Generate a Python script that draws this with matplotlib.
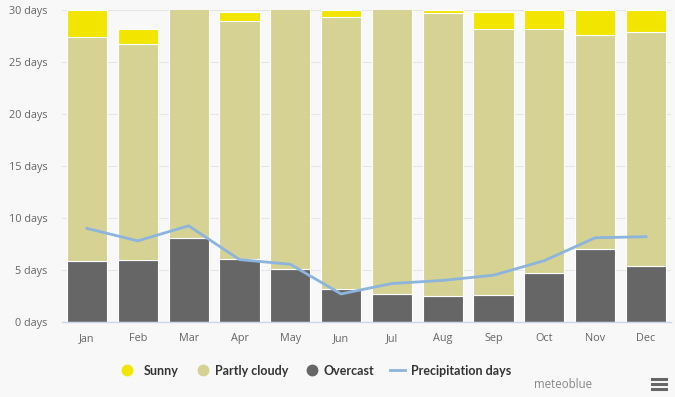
import matplotlib
matplotlib.use("Agg")
import matplotlib.pyplot as plt
from matplotlib.lines import Line2D
import numpy as np

months = ["Jan", "Feb", "Mar", "Apr", "May", "Jun", "Jul", "Aug", "Sep", "Oct", "Nov", "Dec"]
overcast = [5.9, 6.0, 8.1, 6.05, 5.07, 3.17, 2.7, 2.5, 2.6, 4.7, 7.05, 5.4]
partly_cloudy = [21.5, 20.7, 22.9, 22.85, 25.9, 26.13, 28.3, 27.2, 25.6, 23.45, 20.55, 22.45]
sunny = [2.6, 1.5, 0.0, 0.9, 0.0, 0.7, 0.0, 0.3, 1.6, 1.85, 2.4, 2.15]
precipitation_days = [9.0, 7.8, 9.25, 6.0, 5.55, 2.7, 3.7, 4.0, 4.5, 5.9, 8.1, 8.2]
yticks = [0, 5, 10, 15, 20, 25, 30]
legend_labels = ["Sunny", "Partly cloudy", "Overcast", "Precipitation days"]

C_SUN = "#f2e600"
C_PART = "#d5d294"
C_OVER = "#666666"
C_LINE = "#8cb4dc"
BG = "#f8f8f8"

plt.rcParams["font.family"] = ["Open Sans", "DejaVu Sans"]

W, H = 675, 397
fig = plt.figure(figsize=(6.75, 3.97), dpi=100, facecolor=BG)
ax = fig.add_axes([61.6 / W, 75 / H, 609.8 / W, 312 / H], facecolor=BG)

x = np.arange(len(months))
w = 0.79
ax.bar(x, overcast, width=w, color=C_OVER, edgecolor="white", linewidth=0.8, zorder=2)
b1 = np.array(overcast)
ax.bar(x, partly_cloudy, width=w, bottom=b1, color=C_PART, edgecolor="white", linewidth=0.8, zorder=2)
b2 = b1 + np.array(partly_cloudy)
ax.bar(x, sunny, width=w, bottom=b2, color=C_SUN, edgecolor="white", linewidth=0.8, zorder=2)
ax.plot(x, precipitation_days, color=C_LINE, linewidth=2, zorder=3)

ax.set_xlim(-0.5, len(months) - 0.5)
ax.set_ylim(0, 30)
ax.set_yticks(yticks)
ax.set_yticklabels([f"{v} days" for v in yticks])
ax.set_xticks(x)
ax.set_xticklabels(months)
ax.tick_params(axis="both", length=0, colors="#666666", labelsize=7.8)
ax.tick_params(axis="y", pad=10)
ax.tick_params(axis="x", pad=8)
ax.grid(axis="y", color="#e6e6e6", linewidth=0.8, zorder=0)
for s in ["top", "right", "left"]:
    ax.spines[s].set_visible(False)
ax.spines["bottom"].set_color("#ccd6eb")
ax.spines["bottom"].set_linewidth(1)

# legend, placed manually
ly = 1 - 370 / H
legend_font = dict(family=["Lato", "DejaVu Sans"], weight="bold", size=9, color="#333333")
marker_x = [127, 203, 312]
marker_c = [C_SUN, C_PART, C_OVER]
for mx, mc in zip(marker_x, marker_c):
    fig.add_artist(Line2D([mx / W], [ly], marker="o", markersize=7.5, color=mc, linestyle="none"))
fig.add_artist(Line2D([390 / W, 405 / W], [ly, ly], color=C_LINE, linewidth=2))
text_x = [144, 215, 324, 411]
for tx, lab in zip(text_x, legend_labels):
    fig.text(tx / W, ly, lab, ha="left", va="center_baseline", **legend_font)

fig.text(592 / W, 1 - 385 / H, "meteoblue", ha="right", va="center", color="#888888",
         fontsize=8.3, family=["Open Sans", "DejaVu Sans"])
for yy in [379, 384, 389]:
    fig.add_artist(Line2D([652 / W, 666 / W], [1 - yy / H] * 2, color="#666666", linewidth=2.2))

fig.savefig("out.png", dpi=100, facecolor=BG)
